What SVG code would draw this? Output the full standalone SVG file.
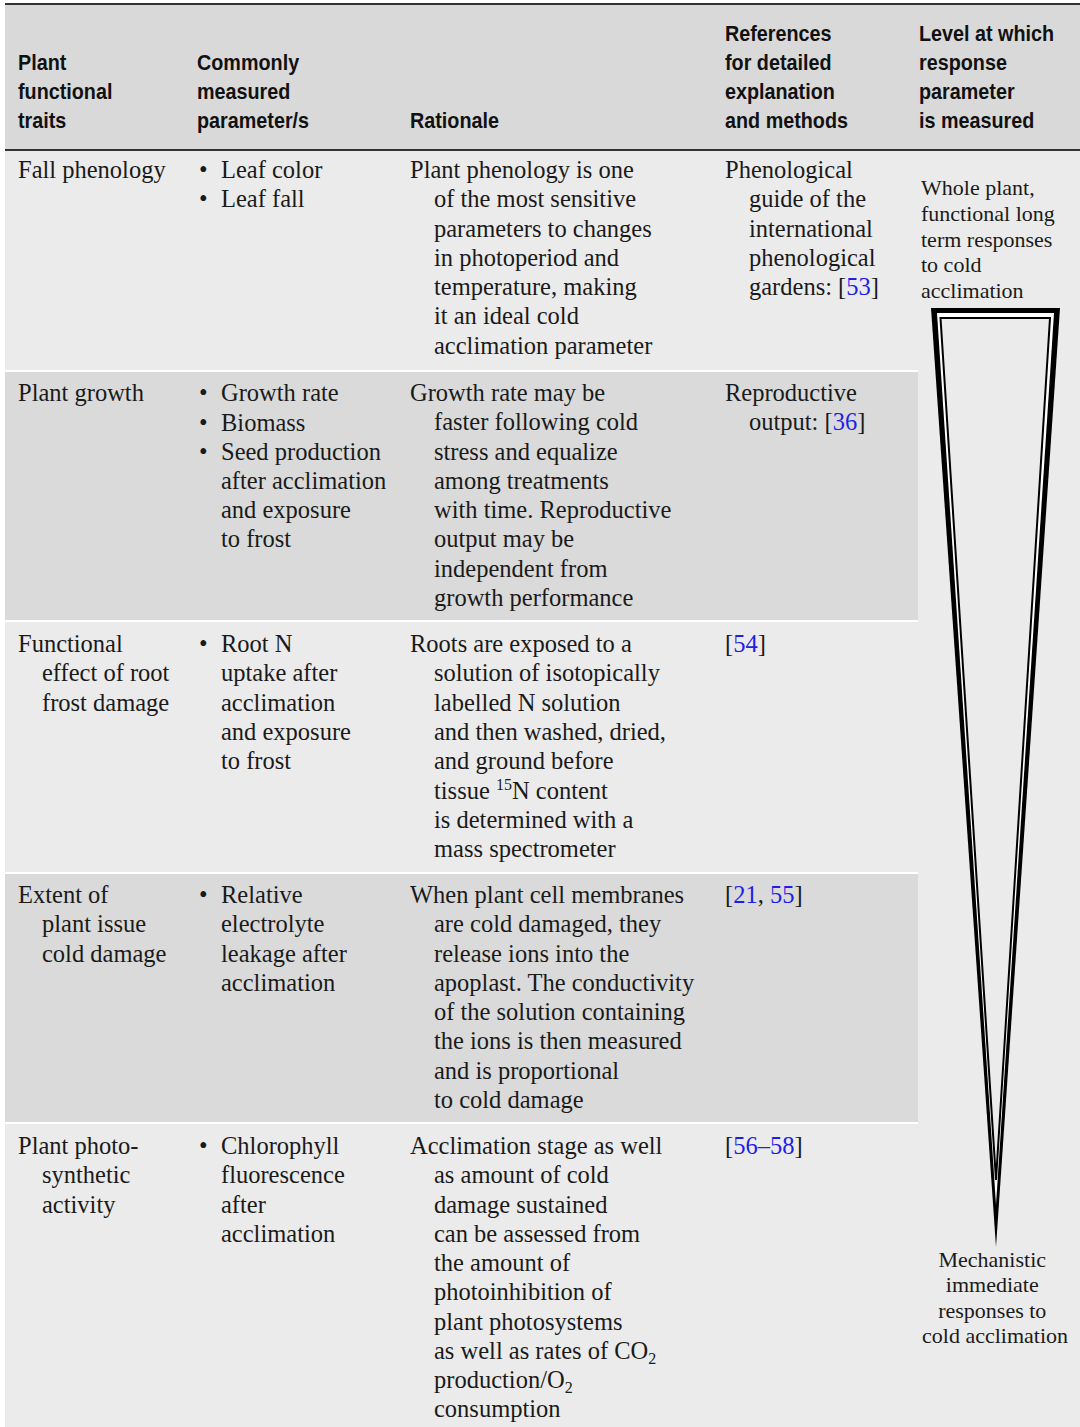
<svg xmlns="http://www.w3.org/2000/svg" width="1080" height="1427" viewBox="0 0 1080 1427">
  <style>
    .hd { font-family: "Liberation Sans", Arial, sans-serif; font-weight: bold; font-size: 21.5px; fill: #111; }
    .tx { font-family: "Liberation Serif", "Times New Roman", serif; font-size: 24.5px; fill: #1a1a1a; }
    .sm { font-family: "Liberation Serif", "Times New Roman", serif; font-size: 22px; fill: #1a1a1a; }
    .ref { fill: #1f1fe6; }
    .lite { fill: #ebebeb; }
    .dark { fill: #d9dad9; }
    .sep { fill: #ffffff; }
  </style>

  <!-- page -->
  <rect x="0" y="0" width="1080" height="1427" fill="#ffffff"/>

  <!-- header band -->
  <g id="header">
    <rect x="5" y="4" width="1075" height="146" fill="#d9d9d9"/>
    <rect x="5" y="3" width="1075" height="2" fill="#333333"/>
    <rect x="5" y="149" width="1075" height="2" fill="#333333"/>
    <g transform="translate(18,0) scale(0.92,1)">
      <text class="hd" x="0" y="70">Plant</text>
      <text class="hd" x="0" y="99">functional</text>
      <text class="hd" x="0" y="128">traits</text>
    </g>
    <g transform="translate(197,0) scale(0.92,1)">
      <text class="hd" x="0" y="70">Commonly</text>
      <text class="hd" x="0" y="99">measured</text>
      <text class="hd" x="0" y="128">parameter/s</text>
    </g>
    <g transform="translate(410,0) scale(0.92,1)">
      <text class="hd" x="0" y="128">Rationale</text>
    </g>
    <g transform="translate(725,0) scale(0.92,1)">
      <text class="hd" x="0" y="41">References</text>
      <text class="hd" x="0" y="70">for detailed</text>
      <text class="hd" x="0" y="99">explanation</text>
      <text class="hd" x="0" y="128">and methods</text>
    </g>
    <g transform="translate(919,0) scale(0.92,1)">
      <text class="hd" x="0" y="41">Level at which</text>
      <text class="hd" x="0" y="70">response</text>
      <text class="hd" x="0" y="99">parameter</text>
      <text class="hd" x="0" y="128">is measured</text>
    </g>
  </g>

  <!-- body backgrounds -->
  <g id="body-bg">
    <rect class="lite" x="5" y="151" width="1075" height="1276"/>
    <rect class="dark" x="5" y="372" width="913" height="248"/>
    <rect class="dark" x="5" y="874" width="913" height="248"/>
    <rect class="sep" x="5" y="370" width="913" height="2"/>
    <rect class="sep" x="5" y="620" width="913" height="2"/>
    <rect class="sep" x="5" y="872" width="913" height="2"/>
    <rect class="sep" x="5" y="1122" width="913" height="2"/>
  </g>

  <!-- row: fall phenology -->
  <g id="row-fall-phenology">
    <text class="tx" x="18" y="178">Fall phenology</text>
    <text class="tx" y="178"><tspan x="199">•</tspan><tspan x="221">Leaf color</tspan></text>
    <text class="tx" y="207"><tspan x="199">•</tspan><tspan x="221">Leaf fall</tspan></text>
    <text class="tx">
      <tspan x="410" y="178">Plant phenology is one</tspan>
      <tspan x="434" y="207">of the most sensitive</tspan>
      <tspan x="434" y="237">parameters to changes</tspan>
      <tspan x="434" y="266">in photoperiod and</tspan>
      <tspan x="434" y="295">temperature, making</tspan>
      <tspan x="434" y="324">it an ideal cold</tspan>
      <tspan x="434" y="354">acclimation parameter</tspan>
    </text>
    <text class="tx">
      <tspan x="725" y="178">Phenological</tspan>
      <tspan x="749" y="207">guide of the</tspan>
      <tspan x="749" y="237">international</tspan>
      <tspan x="749" y="266">phenological</tspan>
      <tspan x="749" y="295">gardens: [<tspan class="ref">53</tspan>]</tspan>
    </text>
  </g>

  <!-- row: plant growth -->
  <g id="row-plant-growth">
    <text class="tx" x="18" y="401">Plant growth</text>
    <text class="tx" y="401"><tspan x="199">•</tspan><tspan x="221">Growth rate</tspan></text>
    <text class="tx" y="431"><tspan x="199">•</tspan><tspan x="221">Biomass</tspan></text>
    <text class="tx" y="460"><tspan x="199">•</tspan><tspan x="221">Seed production</tspan></text>
    <text class="tx">
      <tspan x="221" y="489">after acclimation</tspan>
      <tspan x="221" y="518">and exposure</tspan>
      <tspan x="221" y="547">to frost</tspan>
    </text>
    <text class="tx">
      <tspan x="410" y="401">Growth rate may be</tspan>
      <tspan x="434" y="430">faster following cold</tspan>
      <tspan x="434" y="460">stress and equalize</tspan>
      <tspan x="434" y="489">among treatments</tspan>
      <tspan x="434" y="518">with time. Reproductive</tspan>
      <tspan x="434" y="547">output may be</tspan>
      <tspan x="434" y="577">independent from</tspan>
      <tspan x="434" y="606">growth performance</tspan>
    </text>
    <text class="tx">
      <tspan x="725" y="401">Reproductive</tspan>
      <tspan x="749" y="430">output: [<tspan class="ref">36</tspan>]</tspan>
    </text>
  </g>

  <!-- row: root frost damage -->
  <g id="row-root-frost">
    <text class="tx">
      <tspan x="18" y="652">Functional</tspan>
      <tspan x="42" y="681">effect of root</tspan>
      <tspan x="42" y="711">frost damage</tspan>
    </text>
    <text class="tx" y="652"><tspan x="199">•</tspan><tspan x="221">Root N</tspan></text>
    <text class="tx">
      <tspan x="221" y="681">uptake after</tspan>
      <tspan x="221" y="711">acclimation</tspan>
      <tspan x="221" y="740">and exposure</tspan>
      <tspan x="221" y="769">to frost</tspan>
    </text>
    <text class="tx">
      <tspan x="410" y="652">Roots are exposed to a</tspan>
      <tspan x="434" y="681">solution of isotopically</tspan>
      <tspan x="434" y="711">labelled N solution</tspan>
      <tspan x="434" y="740">and then washed, dried,</tspan>
      <tspan x="434" y="769">and ground before</tspan>
      <tspan x="434" y="799">tissue <tspan font-size="16" dy="-9">15</tspan><tspan dy="9">N content</tspan></tspan>
      <tspan x="434" y="828">is determined with a</tspan>
      <tspan x="434" y="857">mass spectrometer</tspan>
    </text>
    <text class="tx" x="725" y="652">[<tspan class="ref">54</tspan>]</text>
  </g>

  <!-- row: tissue cold damage -->
  <g id="row-tissue-damage">
    <text class="tx">
      <tspan x="18" y="903">Extent of</tspan>
      <tspan x="42" y="932">plant issue</tspan>
      <tspan x="42" y="962">cold damage</tspan>
    </text>
    <text class="tx" y="903"><tspan x="199">•</tspan><tspan x="221">Relative</tspan></text>
    <text class="tx">
      <tspan x="221" y="932">electrolyte</tspan>
      <tspan x="221" y="962">leakage after</tspan>
      <tspan x="221" y="991">acclimation</tspan>
    </text>
    <text class="tx">
      <tspan x="410" y="903">When plant cell membranes</tspan>
      <tspan x="434" y="932">are cold damaged, they</tspan>
      <tspan x="434" y="962">release ions into the</tspan>
      <tspan x="434" y="991">apoplast. The conductivity</tspan>
      <tspan x="434" y="1020">of the solution containing</tspan>
      <tspan x="434" y="1049">the ions is then measured</tspan>
      <tspan x="434" y="1079">and is proportional</tspan>
      <tspan x="434" y="1108">to cold damage</tspan>
    </text>
    <text class="tx" x="725" y="903">[<tspan class="ref">21</tspan>, <tspan class="ref">55</tspan>]</text>
  </g>

  <!-- row: photosynthetic activity -->
  <g id="row-photosynthesis">
    <text class="tx">
      <tspan x="18" y="1154">Plant photo-</tspan>
      <tspan x="42" y="1183">synthetic</tspan>
      <tspan x="42" y="1213">activity</tspan>
    </text>
    <text class="tx" y="1154"><tspan x="199">•</tspan><tspan x="221">Chlorophyll</tspan></text>
    <text class="tx">
      <tspan x="221" y="1183">fluorescence</tspan>
      <tspan x="221" y="1213">after</tspan>
      <tspan x="221" y="1242">acclimation</tspan>
    </text>
    <text class="tx">
      <tspan x="410" y="1154">Acclimation stage as well</tspan>
      <tspan x="434" y="1183">as amount of cold</tspan>
      <tspan x="434" y="1213">damage sustained</tspan>
      <tspan x="434" y="1242">can be assessed from</tspan>
      <tspan x="434" y="1271">the amount of</tspan>
      <tspan x="434" y="1300">photoinhibition of</tspan>
      <tspan x="434" y="1330">plant photosystems</tspan>
    </text>
    <text class="tx" x="434" y="1359">as well as rates of CO<tspan font-size="16" dy="5">2</tspan></text>
    <text class="tx" x="434" y="1388">production/O<tspan font-size="16" dy="5">2</tspan></text>
    <text class="tx" x="434" y="1417">consumption</text>
    <text class="tx" x="725" y="1154">[<tspan class="ref">56–58</tspan>]</text>
  </g>

  <!-- level column: tapering scale from whole-plant to mechanistic -->
  <g id="level-scale">
    <text class="sm">
      <tspan x="921" y="195">Whole plant,</tspan>
      <tspan x="921" y="221">functional long</tspan>
      <tspan x="921" y="247">term responses</tspan>
      <tspan x="921" y="272">to cold</tspan>
      <tspan x="921" y="298">acclimation</tspan>
    </text>
    <polygon points="931,308 1060,308 996,1247" fill="#000000"/>
    <polygon points="937,313 1054,313 996,1205" fill="#ffffff"/>
    <polygon points="940.5,318 1050,318 996,1180" fill="#ebebeb" stroke="#000000" stroke-width="2"/>
    <text class="sm" text-anchor="middle">
      <tspan x="995" y="1267">Mechanistic</tspan>
      <tspan x="995" y="1292">immediate</tspan>
      <tspan x="995" y="1318">responses to</tspan>
      <tspan x="995" y="1343">cold acclimation</tspan>
    </text>
  </g>
</svg>
